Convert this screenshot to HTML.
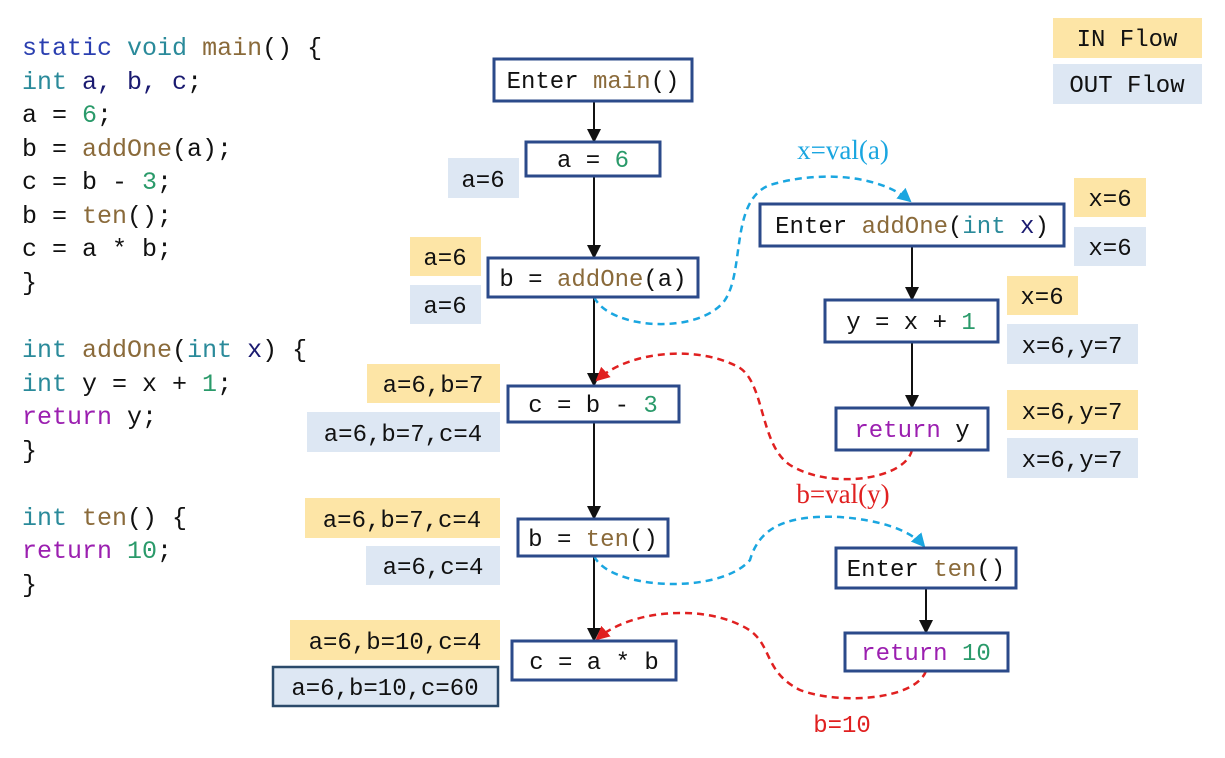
<!DOCTYPE html>
<html><head><meta charset="utf-8"><style>
html,body{margin:0;padding:0;background:#fff;}
svg{display:block;}
.m{font-family:"Liberation Mono","DejaVu Sans Mono",monospace;font-size:24px;fill:#111;white-space:pre;}
.c{font-size:25px;}
.s{font-family:"Liberation Serif",serif;font-size:27px;}
.k{fill:#2a3fb0}.t{fill:#2a8a9a}.f{fill:#8a6a3a}.n{fill:#2a9a6a}.r{fill:#9b1fb0}.v{fill:#1a1a70}
.box{fill:#fff;stroke:#2b4a8a;stroke-width:3}
.y{fill:#fde5a6}.b{fill:#dde7f3}
</style></head><body>
<svg width="1225" height="758" viewBox="0 0 1225 758" xmlns="http://www.w3.org/2000/svg" xml:space="preserve">
<defs>
<marker id="ak" markerWidth="14" markerHeight="14" refX="12" refY="7" orient="auto" markerUnits="userSpaceOnUse"><path d="M0,0 L14,7 L0,14 z" fill="#111"/></marker>
<marker id="ar" markerWidth="14" markerHeight="14" refX="12" refY="7" orient="auto" markerUnits="userSpaceOnUse"><path d="M0,0 L14,7 L0,14 z" fill="#e02020"/></marker>
<marker id="ab" markerWidth="14" markerHeight="14" refX="12" refY="7" orient="auto" markerUnits="userSpaceOnUse"><path d="M0,0 L14,7 L0,14 z" fill="#1aa6e0"/></marker>
</defs>

<!-- code -->
<g class="m c">
<text x="22" y="55"><tspan class="k">static</tspan> <tspan class="t">void</tspan> <tspan class="f">main</tspan>() {</text>
<text x="22" y="89">  <tspan class="t">int</tspan> <tspan class="v">a, b, c</tspan>;</text>
<text x="22" y="122">  a = <tspan class="n">6</tspan>;</text>
<text x="22" y="156">  b = <tspan class="f">addOne</tspan>(a);</text>
<text x="22" y="189">  c = b - <tspan class="n">3</tspan>;</text>
<text x="22" y="223">  b = <tspan class="f">ten</tspan>();</text>
<text x="22" y="256">  c = a * b;</text>
<text x="22" y="290">}</text>
<text x="22" y="357"><tspan class="t">int</tspan> <tspan class="f">addOne</tspan>(<tspan class="t">int</tspan> <tspan class="v">x</tspan>) {</text>
<text x="22" y="391">  <tspan class="t">int</tspan> y = x + <tspan class="n">1</tspan>;</text>
<text x="22" y="424">  <tspan class="r">return</tspan> y;</text>
<text x="22" y="458">}</text>
<text x="22" y="525"><tspan class="t">int</tspan> <tspan class="f">ten</tspan>() {</text>
<text x="22" y="558">  <tspan class="r">return</tspan> <tspan class="n">10</tspan>;</text>
<text x="22" y="592">}</text>
</g>

<!-- legend -->
<rect class="y" x="1053" y="18" width="149" height="40"/>
<rect class="b" x="1053" y="64" width="149" height="40"/>
<text class="m" x="1127" y="46" text-anchor="middle">IN Flow</text>
<text class="m" x="1127" y="92" text-anchor="middle">OUT Flow</text>

<!-- edges -->
<g stroke="#111" stroke-width="2" fill="none" marker-end="url(#ak)">
<line x1="594" y1="102" x2="594" y2="141"/>
<line x1="594" y1="177" x2="594" y2="257"/>
<line x1="594" y1="298" x2="594" y2="385"/>
<line x1="594" y1="423" x2="594" y2="518"/>
<line x1="594" y1="557" x2="594" y2="640"/>
<line x1="912" y1="247" x2="912" y2="299"/>
<line x1="912" y1="343" x2="912" y2="407"/>
<line x1="926" y1="589" x2="926" y2="632"/>
</g>

<g fill="none" stroke-width="2.5" stroke-dasharray="7,5">
<path d="M594,297 C610,330 700,335 725,300 C745,270 730,200 770,185 C820,170 880,175 910,201" stroke="#1aa6e0" marker-end="url(#ab)"/>
<path d="M912,450 C905,480 830,490 790,465 C760,445 765,385 740,368 C700,345 630,350 597,380" stroke="#e02020" marker-end="url(#ar)"/>
<path d="M594,556 C610,590 720,595 750,560 C760,525 790,515 840,517 C880,520 910,530 924,546" stroke="#1aa6e0" marker-end="url(#ab)"/>
<path d="M926,671 C915,700 840,705 800,690 C760,670 775,640 740,625 C700,605 630,610 597,639" stroke="#e02020" marker-end="url(#ar)"/>
</g>
<text class="s" x="843" y="159" text-anchor="middle" fill="#1aa6e0">x=val(a)</text>
<text class="s" x="843" y="503" text-anchor="middle" fill="#e02020">b=val(y)</text>
<text class="m" x="842" y="732" text-anchor="middle" style="fill:#e02020">b=10</text>

<!-- main nodes -->
<rect class="box" x="494" y="59" width="198" height="42"/>
<text class="m" x="593" y="88" text-anchor="middle">Enter <tspan class="f">main</tspan>()</text>
<rect class="box" x="526" y="142" width="134" height="34"/>
<text class="m" x="593" y="167" text-anchor="middle">a = <tspan class="n">6</tspan></text>
<rect class="box" x="488" y="258" width="210" height="39"/>
<text class="m" x="593" y="286" text-anchor="middle">b = <tspan class="f">addOne</tspan>(a)</text>
<rect class="box" x="508" y="386" width="171" height="36"/>
<text class="m" x="593" y="412" text-anchor="middle">c = b - <tspan class="n">3</tspan></text>
<rect class="box" x="518" y="519" width="150" height="37"/>
<text class="m" x="593" y="546" text-anchor="middle">b = <tspan class="f">ten</tspan>()</text>
<rect class="box" x="512" y="641" width="164" height="39"/>
<text class="m" x="594" y="669" text-anchor="middle">c = a * b</text>

<!-- main labels -->
<rect class="b" x="448" y="158" width="71" height="40"/><text class="m" x="483" y="187" text-anchor="middle">a=6</text>
<rect class="y" x="410" y="237" width="71" height="39"/><text class="m" x="445" y="265" text-anchor="middle">a=6</text>
<rect class="b" x="410" y="285" width="71" height="39"/><text class="m" x="445" y="313" text-anchor="middle">a=6</text>
<rect class="y" x="367" y="364" width="133" height="39"/><text class="m" x="433" y="392" text-anchor="middle">a=6,b=7</text>
<rect class="b" x="307" y="412" width="193" height="40"/><text class="m" x="403" y="441" text-anchor="middle">a=6,b=7,c=4</text>
<rect class="y" x="305" y="498" width="195" height="40"/><text class="m" x="402" y="527" text-anchor="middle">a=6,b=7,c=4</text>
<rect class="b" x="366" y="546" width="134" height="39"/><text class="m" x="433" y="574" text-anchor="middle">a=6,c=4</text>
<rect class="y" x="290" y="620" width="210" height="40"/><text class="m" x="395" y="649" text-anchor="middle">a=6,b=10,c=4</text>
<rect class="b" x="273" y="667" width="225" height="39" stroke="#2b4a6a" stroke-width="2.5"/><text class="m" x="385" y="695" text-anchor="middle">a=6,b=10,c=60</text>

<!-- addOne -->
<rect class="box" x="760" y="204" width="304" height="42"/>
<text class="m" x="912" y="233" text-anchor="middle">Enter <tspan class="f">addOne</tspan>(<tspan class="t">int</tspan> <tspan class="v">x</tspan>)</text>
<rect class="box" x="825" y="300" width="173" height="42"/>
<text class="m" x="911" y="329" text-anchor="middle">y = x + <tspan class="n">1</tspan></text>
<rect class="box" x="836" y="408" width="152" height="42"/>
<text class="m" x="912" y="437" text-anchor="middle"><tspan class="r">return</tspan> y</text>
<rect class="y" x="1074" y="178" width="72" height="39"/><text class="m" x="1110" y="206" text-anchor="middle">x=6</text>
<rect class="b" x="1074" y="227" width="72" height="39"/><text class="m" x="1110" y="255" text-anchor="middle">x=6</text>
<rect class="y" x="1007" y="276" width="71" height="39"/><text class="m" x="1042" y="304" text-anchor="middle">x=6</text>
<rect class="b" x="1007" y="324" width="131" height="40"/><text class="m" x="1072" y="353" text-anchor="middle">x=6,y=7</text>
<rect class="y" x="1007" y="390" width="131" height="40"/><text class="m" x="1072" y="419" text-anchor="middle">x=6,y=7</text>
<rect class="b" x="1007" y="438" width="131" height="40"/><text class="m" x="1072" y="467" text-anchor="middle">x=6,y=7</text>

<!-- ten -->
<rect class="box" x="836" y="548" width="180" height="40"/>
<text class="m" x="926" y="576" text-anchor="middle">Enter <tspan class="f">ten</tspan>()</text>
<rect class="box" x="845" y="633" width="163" height="38"/>
<text class="m" x="926" y="660" text-anchor="middle"><tspan class="r">return</tspan> <tspan class="n">10</tspan></text>
</svg>
</body></html>
